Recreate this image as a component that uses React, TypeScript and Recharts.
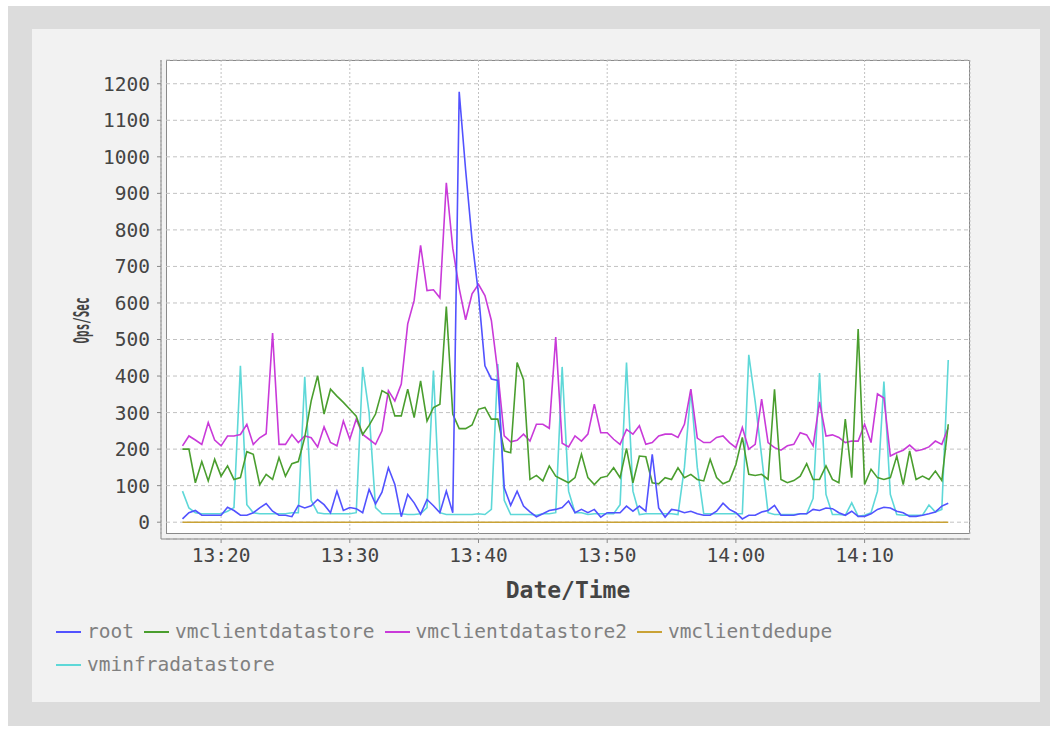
import { LineChart, Line, XAxis, YAxis, CartesianGrid } from "recharts";

// samples every 30 s starting 13:17
const START_MIN = 13 * 60 + 17;
const STEP_MIN = 0.5;

const ROOT = [
  9, 26, 32, 19, 19, 19, 19, 41, 32, 19, 19, 26, 39, 51, 30, 19, 19, 15, 46, 39,
  45, 62, 48, 26, 85, 32, 40, 37, 26, 90, 50, 82, 149, 103, 15, 76, 53, 22, 62, 45,
  26, 85, 26, 1178, 964, 772, 625, 428, 392, 388, 94, 46, 85, 44, 28, 15, 23, 32, 35, 40,
  58, 26, 35, 26, 35, 14, 26, 26, 26, 44, 30, 44, 30, 186, 39, 14, 35, 32, 26, 30,
  23, 19, 19, 30, 52, 35, 26, 9, 19, 19, 28, 32, 46, 19, 19, 19, 23, 23, 35, 32,
  39, 37, 26, 19, 30, 16, 16, 23, 35, 41, 39, 30, 26, 16, 16, 19, 23, 28, 44, 52,
];

const VM_CLIENT = [
  200, 200, 108, 166, 113, 172, 126, 154, 117, 122, 193, 186, 103, 131, 117, 177, 126, 160, 166, 232,
  332, 401, 296, 364, 345, 328, 309, 290, 240, 265, 296, 360, 350, 291, 291, 364, 286, 387, 277, 314,
  323, 590, 296, 256, 256, 266, 309, 314, 282, 282, 195, 190, 437, 390, 117, 128, 113, 154, 126, 117,
  108, 122, 186, 122, 103, 122, 126, 149, 122, 202, 108, 181, 179, 108, 105, 122, 117, 149, 122, 131,
  117, 113, 172, 122, 105, 113, 158, 232, 131, 128, 131, 117, 364, 117, 108, 114, 126, 160, 117, 117,
  154, 117, 108, 282, 122, 529, 103, 145, 122, 117, 122, 181, 103, 195, 117, 126, 117, 140, 114, 268,
];

const VM_CLIENT2 = [
  209, 236, 225, 213, 273, 225, 209, 236, 236, 240, 268, 213, 231, 242, 518, 213, 213, 240, 218, 236,
  231, 206, 261, 218, 209, 277, 227, 282, 240, 227, 213, 250, 360, 332, 378, 543, 607, 758, 634, 636,
  614, 929, 750, 640, 554, 625, 651, 620, 552, 410, 236, 220, 224, 241, 222, 268, 268, 257, 507, 216,
  206, 236, 222, 241, 323, 245, 245, 227, 213, 254, 241, 264, 213, 218, 236, 241, 241, 232, 268, 364,
  230, 218, 218, 232, 236, 218, 204, 259, 200, 213, 337, 218, 204, 197, 209, 213, 245, 239, 209, 329,
  236, 239, 232, 218, 222, 222, 268, 218, 351, 340, 181, 190, 197, 211, 195, 199, 206, 222, 213, 259,
];

const VM_DEDUPE = [
  0, 0, 0, 0, 0, 0, 0, 0, 0, 0, 0, 0, 0, 0, 0, 0, 0, 0, 0, 0,
  0, 0, 0, 0, 0, 0, 0, 0, 0, 0, 0, 0, 0, 0, 0, 0, 0, 0, 0, 0,
  0, 0, 0, 0, 0, 0, 0, 0, 0, 0, 0, 0, 0, 0, 0, 0, 0, 0, 0, 0,
  0, 0, 0, 0, 0, 0, 0, 0, 0, 0, 0, 0, 0, 0, 0, 0, 0, 0, 0, 0,
  0, 0, 0, 0, 0, 0, 0, 0, 0, 0, 0, 0, 0, 0, 0, 0, 0, 0, 0, 0,
  0, 0, 0, 0, 0, 0, 0, 0, 0, 0, 0, 0, 0, 0, 0, 0, 0, 0, 0, 0,
];

const VM_INFRA = [
  85, 39, 26, 23, 23, 23, 23, 30, 40, 428, 48, 26, 23, 23, 23, 23, 23, 26, 26, 398,
  60, 26, 23, 23, 23, 23, 23, 26, 425, 300, 40, 23, 23, 23, 23, 21, 21, 23, 40, 415,
  26, 21, 21, 21, 21, 21, 23, 21, 35, 433, 60, 21, 21, 21, 21, 19, 23, 23, 26, 425,
  85, 26, 26, 21, 23, 23, 23, 23, 48, 437, 85, 21, 23, 23, 23, 23, 23, 21, 150, 362,
  150, 23, 23, 23, 23, 23, 23, 23, 458, 330, 180, 26, 21, 21, 21, 21, 23, 23, 65, 408,
  76, 21, 21, 19, 53, 16, 19, 26, 85, 385, 76, 21, 19, 19, 19, 19, 47, 28, 35, 444,
];

const X_TICKS = [800, 810, 820, 830, 840, 850];
const Y_TICKS = [0, 100, 200, 300, 400, 500, 600, 700, 800, 900, 1000, 1100, 1200];

const SERIES = [
  { key: "root", color: "#5252ff", values: ROOT },
  { key: "vmclientdatastore", color: "#4a9e2e", values: VM_CLIENT },
  { key: "vmclientdatastore2", color: "#c93ad9", values: VM_CLIENT2 },
  { key: "vmclientdedupe", color: "#c9a235", values: VM_DEDUPE },
  { key: "vminfradatastore", color: "#5ed8d8", values: VM_INFRA },
];

const data = ROOT.map((_, i) => {
  const row: Record<string, number> = { t: START_MIN + i * STEP_MIN };
  SERIES.forEach((s) => (row[s.key] = s.values[i]));
  return row;
});

const MONO = "'DejaVu Sans Mono', monospace";

function fmtTime(m: number) {
  const h = Math.floor(m / 60);
  const mm = Math.round(m - h * 60);
  return `${h}:${String(mm).padStart(2, "0")}`;
}

function YTitle(props: any) {
  const vb = props.viewBox || { x: 0, y: 60, width: 161, height: 479 };
  const cx = vb.x + 81;
  const cy = vb.y + vb.height / 2 + 21;
  return (
    <text
      x={cx}
      y={cy}
      transform={`rotate(-90 ${cx} ${cy})`}
      textAnchor="middle"
      dominantBaseline="central"
      fontFamily={MONO}
      fontWeight="bold"
      fontSize={22}
      fill="#444"
      textLength={46}
      lengthAdjust="spacingAndGlyphs"
    >
      Ops/Sec
    </text>
  );
}

function XTitle(props: any) {
  const vb = props.viewBox || { x: 161, y: 539, width: 809, height: 60 };
  return (
    <text
      x={vb.x + vb.width / 2 + 2.5}
      y={vb.y + 59}
      textAnchor="middle"
      fontFamily={MONO}
      fontWeight="bold"
      fontSize={23}
      fill="#444"
    >
      Date/Time
    </text>
  );
}

export default function App() {
  const tickStyle = { fontFamily: MONO, fontSize: 19.5, fill: "#444" };
  return (
    <div>
      <div style={{ position: "absolute", left: 8, top: 6, width: 1042, height: 720, background: "#dcdcdc" }} />
      <div style={{ position: "absolute", left: 32, top: 29, width: 1008, height: 673, background: "#f2f2f2" }} />
      {/* white plot box, inset 5px from the axis lines like the original */}
      <div
        style={{
          position: "absolute",
          left: 166,
          top: 60,
          width: 804,
          height: 474,
          background: "#fff",
          border: "1px solid #8a8a8a",
          boxSizing: "border-box",
        }}
      />
      <div style={{ position: "absolute", left: 0, top: 0 }}>
        <LineChart width={1058} height={733} data={data} margin={{ top: 60, right: 88, bottom: 134, left: 0 }}>
          <CartesianGrid x={166} y={60} width={804} height={474} vertical={false} stroke="#c2c2c2" strokeDasharray="4 3" />
          <CartesianGrid x={166} y={60} width={804} height={474} horizontal={false} stroke="#c2c2c2" strokeDasharray="2 2" />
          <XAxis
            dataKey="t"
            type="number"
            domain={[795.33, 858.19]}
            allowDataOverflow
            ticks={X_TICKS}
            tickFormatter={fmtTime}
            height={60}
            tickSize={4}
            tickMargin={5}
            stroke="#888"
            tick={tickStyle}
            label={<XTitle />}
          />
          <YAxis
            type="number"
            domain={[-46, 1265]}
            allowDataOverflow
            ticks={Y_TICKS}
            width={161}
            tickSize={4}
            tickMargin={7}
            stroke="#888"
            tick={tickStyle}
            label={<YTitle />}
          />
          {[...SERIES].reverse().map((s) => (
            <Line
              key={s.key}
              dataKey={s.key}
              type="linear"
              stroke={s.color}
              strokeWidth={1.6}
              dot={false}
              isAnimationActive={false}
            />
          ))}
        </LineChart>
      </div>
      <div
        style={{
          position: "absolute",
          left: 56,
          top: 615,
          width: 960,
          display: "flex",
          flexWrap: "wrap",
          fontFamily: MONO,
          fontSize: 19.5,
          lineHeight: "33px",
          color: "#808080",
        }}
      >
        {SERIES.map((s) => (
          <div key={s.key} style={{ display: "flex", alignItems: "center", marginRight: 10 }}>
            <span style={{ display: "inline-block", width: 25, height: 2, background: s.color, marginRight: 6 }} />
            <span>{s.key}</span>
          </div>
        ))}
      </div>
    </div>
  );
}
